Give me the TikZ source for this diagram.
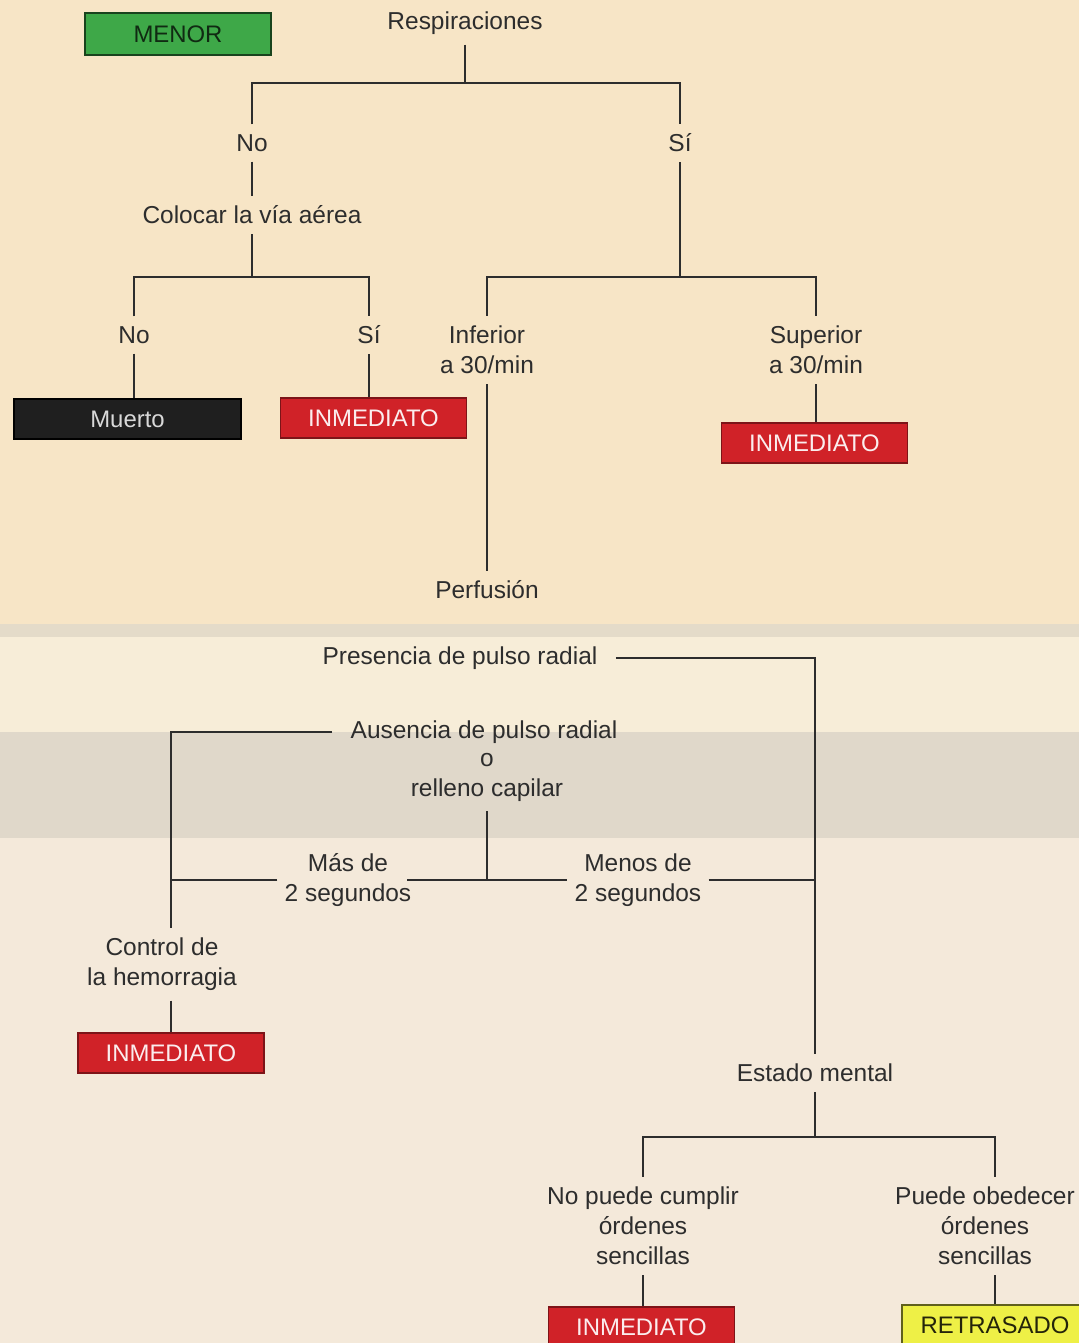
\documentclass[tikz,border=0pt]{standalone}
\usepackage{fontspec}
\setmainfont{Liberation Sans}
\usetikzlibrary{calc,positioning}
\definecolor{papel}{RGB}{247,229,198}
\definecolor{papelclaro}{RGB}{247,237,216}
\definecolor{banda}{RGB}{224,216,202}
\definecolor{papelrosa}{RGB}{244,233,218}
\definecolor{tinta}{RGB}{45,45,45}
\definecolor{rojo}{RGB}{208,34,40}
\definecolor{verde}{RGB}{62,168,72}
\definecolor{amarillo}{RGB}{238,240,70}
\tikzset{
  etiqueta/.style={
    align=center,
    inner xsep=5pt,
    inner ysep=7pt,
    text=tinta,
    font=\fontsize{17.4}{21.3}\selectfont
  },
  caja/.style={
    minimum width=4.65cm,
    minimum height=1cm,
    inner sep=0pt,
    line width=1pt,
    font=\fontsize{17}{20}\selectfont
  },
  inmediato/.style={caja, fill=rojo, draw=rojo!60!black, text=white!92!rojo},
  muerto/.style={caja, fill=black!88, draw=black, text=white!85!black, minimum width=5.68cm},
  menor/.style={caja, fill=verde, draw=verde!40!black, text=verde!25!black, minimum height=1.05cm},
  retrasado/.style={caja, fill=amarillo, draw=amarillo!40!black, text=black!85!amarillo},
  linea/.style={draw=tinta, line width=2pt}
}
\begin{document}
\begin{tikzpicture}[x=0.025cm,y=-0.025cm]
\useasboundingbox (0,0) rectangle (1079,1343);
\clip (0,0) rectangle (1079,1343);
% fondo de la pagina
\fill[papel] (0,0) rectangle (1079,624);
\fill[banda!80!papel] (0,624) rectangle (1079,637);
\fill[papelclaro] (0,637) rectangle (1079,732);
\fill[banda] (0,732) rectangle (1079,838);
\fill[papelrosa] (0,838) rectangle (1079,1343);

% respiraciones
\node[menor] (menor) at (178,34) {MENOR};
\node[etiqueta] (resp) at (465,23) {Respiraciones};
\node[etiqueta] (no1) at (252,143) {No};
\node[etiqueta] (si1) at (680,143) {Sí};
\node[etiqueta] (via) at (252,215) {Colocar la vía aérea};
\node[etiqueta] (no2) at (134,335) {No};
\node[etiqueta] (si2) at (369,335) {Sí};
\node[muerto] (muerto) at (127.5,419) {Muerto};
\node[inmediato] (inm1) at (373.5,418) {INMEDIATO};
\node[etiqueta] (inf) at (487,350) {Inferior\\a 30/min};
\node[etiqueta] (perf) at (487,590) {Perfusión};
\node[etiqueta] (sup) at (816,350) {Superior\\a 30/min};
\node[inmediato] (inm2) at (814.5,443) {INMEDIATO};

\coordinate (bar1) at (465,83);
\coordinate (bar2) at (252,277);
\coordinate (bar3) at (680,277);

\draw[linea] (resp.south) -- (bar1);
\draw[linea] (no1.north) |- (bar1) -| (si1.north);
\draw[linea] (no1.south) -- (via.north);
\draw[linea] (via.south) -- (bar2);
\draw[linea] (no2.north) |- (bar2) -| (si2.north);
\draw[linea] (no2.south) -- (no2.south |- muerto.north);
\draw[linea] (si2.south) -- (si2.south |- inm1.north);
\draw[linea] (si1.south) -- (bar3);
\draw[linea] (inf.north) |- (bar3) -| (sup.north);
\draw[linea] (inf.south) -- (perf.north);
\draw[linea] (sup.south) -- (sup.south |- inm2.north);

% perfusion
\node[etiqueta] (pres) at (460,658) {Presencia de pulso radial};
\node[etiqueta] (aus) at (484,732) {Ausencia de pulso radial};
\node[etiqueta] (ausb) at (487,777) {o\\relleno capilar};
\node[etiqueta] (mas) at (348,880) {Más de\\2 segundos};
\node[etiqueta] (menos) at (638,880) {Menos de\\2 segundos};
\node[etiqueta] (ctrl) at (162,964) {Control de\\la hemorragia};
\node[inmediato] (inm3) at (171,1053) {INMEDIATO};
\node[etiqueta] (estado) at (815,1073) {Estado mental};
\node[etiqueta] (npc) at (643,1226) {No puede cumplir\\órdenes\\sencillas};
\node[etiqueta] (pob) at (985,1226) {Puede obedecer\\órdenes\\sencillas};
\node[inmediato] (inm4) at (641.5,1327) {INMEDIATO};
\node[retrasado] (retr) at (995,1325) {RETRASADO};

\coordinate (bar4) at (815,1137);

\draw[linea, shorten <=8pt] (pres.east) -| (estado.north);
\draw[linea, shorten <=8pt] (aus.west) -| (ctrl.north -| inm3.north);
\draw[linea] (ausb.south) -- (ausb.south |- mas.east);
\draw[linea] (mas.west) -- (mas.west -| inm3.north);
\draw[linea, shorten <=-8pt] (mas.east) -- (menos.west);
\draw[linea] (menos.east) -- (menos.east -| estado.north);
\draw[linea] (ctrl.south -| inm3.north) -- (inm3.north);
\draw[linea] (estado.south) -- (bar4);
\draw[linea] (npc.north) |- (bar4) -| (pob.north -| retr.north);
\draw[linea] (npc.south) -- (npc.south |- inm4.north);
\draw[linea] (pob.south -| retr.north) -- (retr.north);
\end{tikzpicture}
\end{document}
